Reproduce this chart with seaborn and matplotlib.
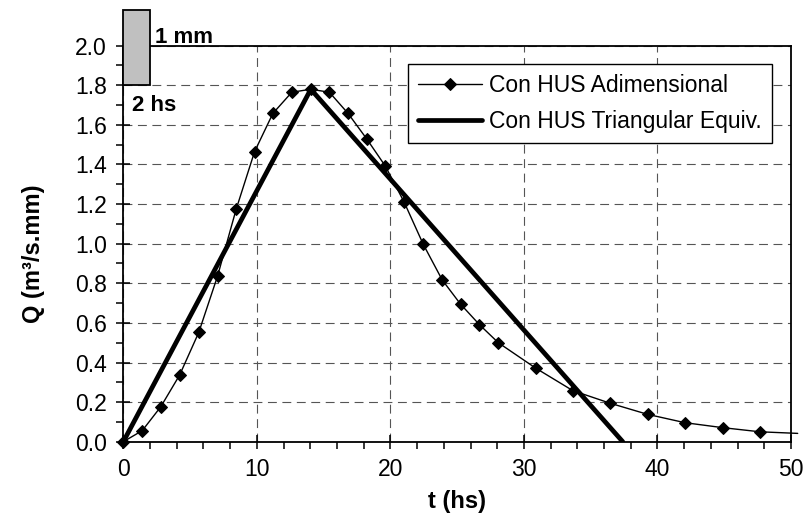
import matplotlib
matplotlib.use("Agg")
import matplotlib.pyplot as plt
import seaborn as sns
from matplotlib.patches import Rectangle
from matplotlib.ticker import MultipleLocator, FormatStrFormatter

# Hidrograma con HUS adimensional (t en hs, Q en m3/s.mm)
t_hus = [0, 1.42, 2.81, 4.22, 5.65, 7.06, 8.45, 9.83, 11.2, 12.62, 14.04, 15.43,
         16.83, 18.23, 19.62, 21.03, 22.46, 23.88, 25.25, 26.67, 28.08, 30.87,
         33.66, 36.47, 39.27, 42.06, 44.88, 47.68, 50.5]
q_hus = [0, 0.056, 0.177, 0.337, 0.552, 0.837, 1.174, 1.465, 1.658, 1.765, 1.78,
         1.765, 1.658, 1.529, 1.392, 1.21, 0.997, 0.817, 0.695, 0.591, 0.50,
         0.372, 0.258, 0.194, 0.138, 0.096, 0.071, 0.05, 0.042]

# HUS triangular equivalente
t_tri = [0, 14.04, 37.4]
q_tri = [0, 1.78, 0]

# Lluvia efectiva: 1 mm en 2 hs
rain_start = 0
rain_dur = 2
rain_label = "1 mm"
dur_label = "2 hs"

label_hus = "Con HUS Adimensional"
label_tri = "Con HUS Triangular Equiv."

sns.set_theme(style="white")
plt.rcParams['font.family'] = ['Liberation Sans', 'DejaVu Sans']

fig = plt.figure(figsize=(8.06, 5.21), dpi=100)
ax = fig.add_axes([0.153, 0.1522, 0.8284, 0.7601])

sns.lineplot(x=t_hus, y=q_hus, ax=ax, color='black', linewidth=1.0,
             marker='D', markersize=6.5, markeredgecolor='black',
             markerfacecolor='black', markevery=list(range(len(t_hus) - 1)),
             clip_on=False, label=label_hus, sort=False, estimator=None, zorder=4)
sns.lineplot(x=t_tri, y=q_tri, ax=ax, color='black', linewidth=3.4,
             label=label_tri, sort=False, estimator=None, zorder=3)

ax.set_xlim(0, 50)
ax.set_ylim(0, 2.0)
ax.xaxis.set_major_locator(MultipleLocator(10))
ax.xaxis.set_minor_locator(MultipleLocator(2))
ax.yaxis.set_major_locator(MultipleLocator(0.2))
ax.yaxis.set_minor_locator(MultipleLocator(0.1))
ax.yaxis.set_major_formatter(FormatStrFormatter('%.1f'))

ax.grid(True, which='major', color='#555555', linestyle=(0, (8, 5)), linewidth=0.8)
ax.set_axisbelow(True)

for sp in ax.spines.values():
    sp.set_color('black')
    sp.set_linewidth(1.3)

ax.tick_params(which='both', bottom=True, left=True, top=False, right=False,
               color='black', width=1.1)
ax.tick_params(which='major', direction='inout', length=10, labelsize=16.5,
               pad=7, labelcolor='black')
ax.tick_params(which='minor', direction='out', length=5)

# Barra de lluvia
ax.add_patch(Rectangle((rain_start, 1.8), rain_dur, 0.378, facecolor='#c0c0c0',
                       edgecolor='black', linewidth=1.3, clip_on=False, zorder=6))
ax.text(2.35, 2.012, rain_label, fontsize=16, fontweight='bold', va='baseline',
        ha='left', color='black', zorder=7)
ax.text(0.62, 1.70, dur_label, fontsize=16, fontweight='bold', va='center',
        ha='left', color='black', zorder=7)

ax.set_xlabel('t (hs)', fontsize=17, fontweight='bold', labelpad=6, color='black')
ax.set_ylabel('Q (m³/s.mm)', fontsize=17, fontweight='bold', color='black')
ax.yaxis.set_label_coords(-0.118, 0.475)

leg = ax.legend(loc='upper right', bbox_to_anchor=(0.9716, 0.954), borderaxespad=0,
                frameon=True, fancybox=False, edgecolor='black', framealpha=1,
                fontsize=16.5, handlelength=2.8, handletextpad=0.3, labelspacing=0.55,
                borderpad=0.45)
leg.get_frame().set_linewidth(1.0)
for txt in leg.get_texts():
    txt.set_color('black')

fig.savefig('out.png', dpi=100)
